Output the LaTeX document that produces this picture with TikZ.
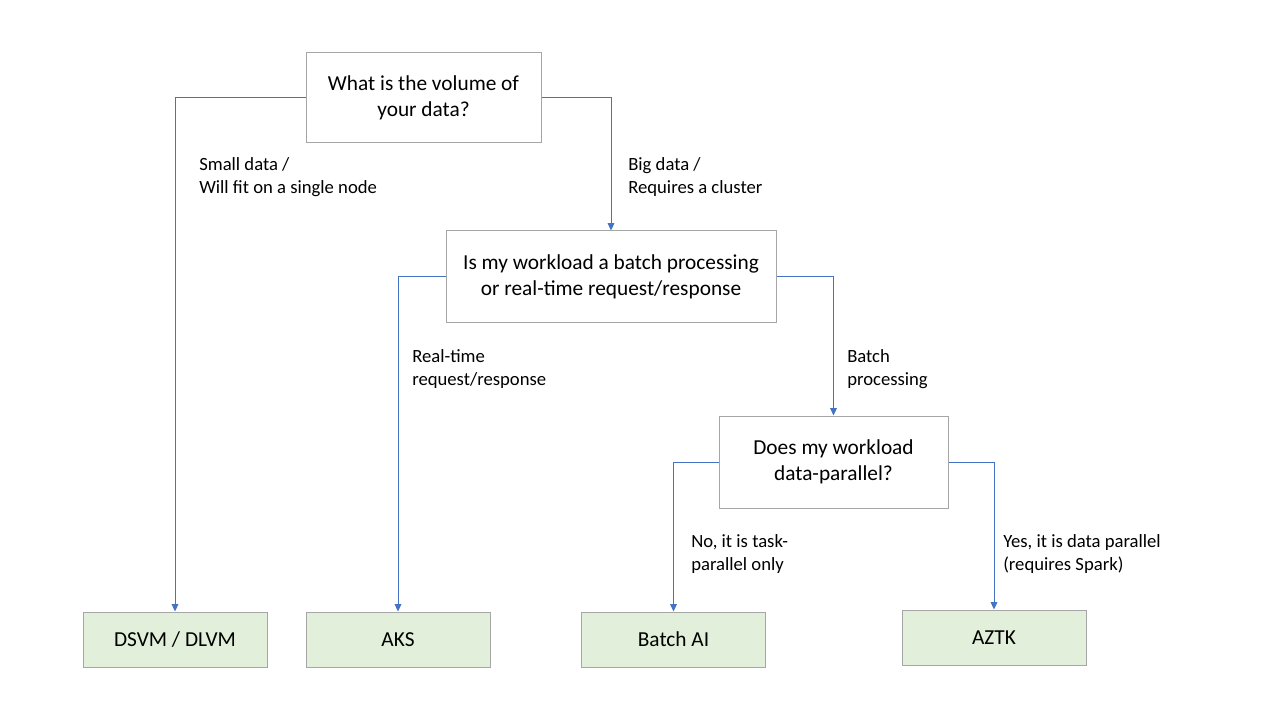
\documentclass[tikz,border=0pt]{standalone}
\usepackage{fontspec}
\setmainfont{Carlito}
\usetikzlibrary{arrows.meta}
\definecolor{lineblue}{HTML}{4472C4}
\definecolor{boxgray}{HTML}{A6A6A6}
\definecolor{leafgreen}{HTML}{E2EFDA}
\tikzset{
  qbox/.style={draw=boxgray, line width=0.75pt, fill=white, align=center, font=\fontsize{16}{19.5}\selectfont, inner sep=0pt},
  leaf/.style={draw=boxgray, line width=0.75pt, fill=leafgreen, align=center, font=\fontsize{16}{19.5}\selectfont, minimum width=138pt, minimum height=41.25pt, inner sep=0pt},
  conn/.style={draw=lineblue, line width=0.75pt, -{Triangle[width=5pt,length=5.5pt]}},
  lbl/.style={align=left, anchor=west, inner sep=0pt, font=\fontsize{14}{17.25}\selectfont}
}
\begin{document}
\begin{tikzpicture}[x=0.75pt, y=-0.75pt]
\useasboundingbox (0,0) rectangle (1280,720);
\node[qbox, minimum width=176.25pt, minimum height=67.5pt] (q1) at (423.5,97.5) {What is the volume of\\your data?};
\node[qbox, minimum width=247.5pt, minimum height=68.25pt] (q2) at (611,276.5) {Is my workload a batch processing\\or real-time request/response};
\node[qbox, minimum width=171.75pt, minimum height=69pt] (q3) at (833.5,462) {Does my workload\\data-parallel?};
\node[leaf] (dsvm) at (175,639.5) {DSVM / DLVM};
\node[leaf] (aks) at (398,639.5) {AKS};
\node[leaf] (batch) at (673.5,639.5) {Batch AI};
\node[leaf] (aztk) at (994,637.5) {AZTK};
\draw[conn] (q1.west) -| (dsvm.north);
\draw[conn] (q1.east) -| (q2.north);
\draw[conn] (q2.west) -| (aks.north);
\draw[conn] (q2.east) -| (q3.north);
\draw[conn] (q3.west) -| (batch.north);
\draw[conn] (q3.east) -| (aztk.north);
\node[lbl] (l1) at (199,177) {Small data /\\Will fit on a single node};
\node[lbl] (l2) at (628,177) {Big data /\\Requires a cluster};
\node[lbl] (l3) at (412,369) {Real-time\\request/response};
\node[lbl] (l4) at (847,369) {Batch\\processing};
\node[lbl] (l5) at (691,554) {No, it is task-\\parallel only};
\node[lbl] (l6) at (1003,554) {Yes, it is data parallel\\(requires Spark)};
\end{tikzpicture}
\end{document}
